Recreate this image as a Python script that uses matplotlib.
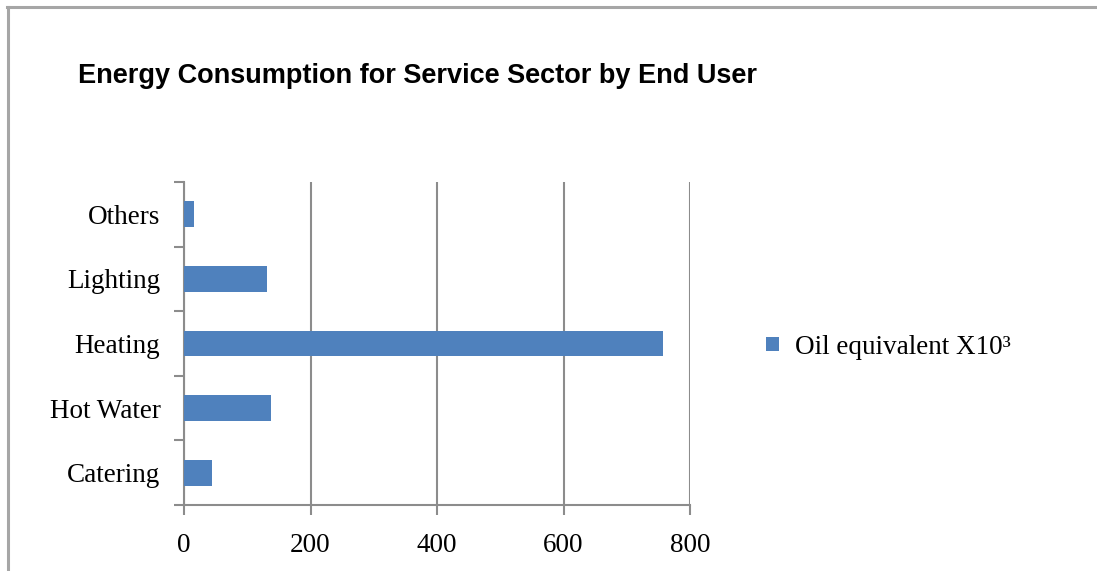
import matplotlib.pyplot as plt
from matplotlib.lines import Line2D

BLUE = '#4F81BD'; GRID = '#8C8C8C'; SERIF = 'Liberation Serif'

categories = ['Catering', 'Hot Water', 'Heating', 'Lighting', 'Others']
oil_equiv = [45, 137, 758, 131, 16]
xticks = [0, 200, 400, 600, 800]

W, H = 1097, 571
fig = plt.figure(figsize=(W / 100, H / 100), dpi=100, facecolor='white')
ax = fig.add_axes([184 / W, 1 - 505 / H, (690 - 184) / W, (505 - 182) / H])

bars = ax.barh(range(len(categories)), oil_equiv, height=0.4, color=BLUE,
               zorder=3, label='Oil equivalent X10³')

ax.set_xlim(0, 800)
ax.set_ylim(-0.5, len(categories) - 0.5)
ax.set_xticks(xticks)
ax.set_xticklabels([str(v) for v in xticks], fontfamily=SERIF, fontsize=19.5)
ax.set_yticks(range(len(categories)))
ax.set_yticklabels(categories, fontfamily=SERIF, fontsize=19.5)
ax.set_yticks([i - 0.5 for i in range(len(categories) + 1)], minor=True)
ax.tick_params(axis='y', which='major', length=0, pad=17)
ax.tick_params(axis='y', which='minor', length=7, width=1.5, color=GRID)
ax.tick_params(axis='x', length=7, width=1.5, color=GRID, pad=13)

ax.grid(axis='x', color=GRID, lw=1.5, zorder=0)
for s in ['top', 'right']:
    ax.spines[s].set_visible(False)
for s in ['left', 'bottom']:
    ax.spines[s].set_color(GRID)
    ax.spines[s].set_linewidth(1.5)

ax.legend(handles=[bars], loc='center left', bbox_to_anchor=(742 / W, 1 - 347 / H),
          bbox_transform=fig.transFigure, frameon=False,
          prop={'family': SERIF, 'size': 19.5},
          handlelength=0.45, handleheight=0.45, handletextpad=0.6)

fig.text(78 / W, 1 - 76 / H, 'Energy Consumption for Service Sector by End User',
         fontfamily='Liberation Sans', fontweight='bold', fontsize=19.5,
         va='center', ha='left')

# outer chart border (top and left only)
fig.add_artist(Line2D([7 / W, 1], [1 - 7 / H, 1 - 7 / H], transform=fig.transFigure,
                      color='#A6A6A6', lw=2.2))
fig.add_artist(Line2D([8 / W, 8 / W], [0, 1 - 7 / H], transform=fig.transFigure,
                      color='#A6A6A6', lw=2.2))

fig.savefig('out.png', dpi=100, facecolor='white')
plt.close(fig)
